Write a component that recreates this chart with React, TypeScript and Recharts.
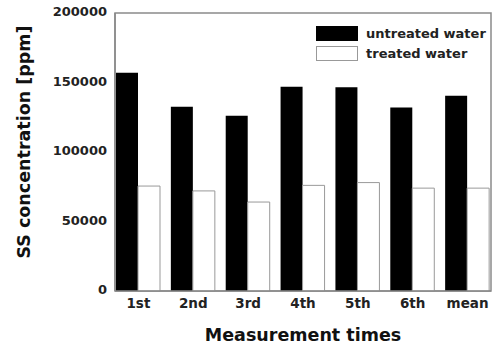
import React from "react";
import * as R from "recharts";
import { BarChart, Bar, XAxis, YAxis, Legend } from "recharts";

const categories = ["1st", "2nd", "3rd", "4th", "5th", "6th", "mean"];
const untreated = [157000, 132500, 126000, 147000, 146500, 132000, 140500];
const treated = [75500, 72000, 64000, 76000, 78000, 74000, 74000];
const yTicks = [0, 50000, 100000, 150000, 200000];

const data = categories.map((c, i) => ({
  label: c,
  untreated: untreated[i],
  treated: treated[i],
}));

const FONT = "'DejaVu Sans', sans-serif";
const AXIS = "#8a8a8a";

const usePA: any = (R as any).usePlotArea;

const Frame = () => {
  const pa = usePA ? usePA() : null;
  if (!pa) return null;
  return (
    <rect
      x={pa.x}
      y={pa.y}
      width={pa.width}
      height={pa.height}
      fill="none"
      stroke={AXIS}
      strokeWidth={1.5}
    />
  );
};

const LegendContent = () => (
  <div style={{ fontFamily: FONT, fontWeight: "bold", fontSize: 13, color: "#222" }}>
    <div style={{ display: "flex", alignItems: "center", height: 20 }}>
      <div style={{ width: 42, height: 15, background: "#000", marginRight: 8 }} />
      <span>untreated water</span>
    </div>
    <div style={{ display: "flex", alignItems: "center", height: 20 }}>
      <div style={{ width: 42, height: 15, background: "#fff", border: "1px solid #999", marginRight: 8, boxSizing: "border-box" }} />
      <span>treated water</span>
    </div>
  </div>
);

const YLabel = (props: any) => {
  const vb = props.viewBox || { x: 0, y: 0, width: 0, height: 0 };
  const cx = vb.x + 24;
  const cy = vb.y + vb.height / 2 - 10;
  return (
    <text
      x={cx}
      y={cy}
      transform={`rotate(-90 ${cx} ${cy})`}
      textAnchor="middle"
      dominantBaseline="central"
      fontFamily={FONT}
      fontWeight="bold"
      fontSize={17.5}
      fill="#111"
    >
      SS concentration [ppm]
    </text>
  );
};

export default function App() {
  return (
    <div style={{ position: "absolute", left: 0, top: 0, background: "#fff" }}>
      <BarChart
        width={496}
        height={349}
        data={data}
        margin={{ top: 13, right: 5, bottom: 0, left: 0 }}
        barGap={0}
        barSize={22}
      >
        <XAxis
          dataKey="label"
          padding={{ left: -4, right: -4 }}
          height={58}
          tickLine={false}
          tickSize={0}
          tickMargin={7}
          axisLine={{ stroke: AXIS, strokeWidth: 1.5 }}
          tick={{ fontFamily: FONT, fontWeight: "bold", fontSize: 13.5, fill: "#222" }}
          label={{
            value: "Measurement times",
            position: "insideBottom",
            offset: 8,
            fontFamily: FONT,
            fontWeight: "bold",
            fontSize: 17.5,
            fill: "#111",
          }}
        />
        <YAxis
          width={115}
          domain={[0, 200000]}
          ticks={yTicks}
          interval={0}
          tickLine={false}
          tickSize={0}
          tickMargin={8}
          axisLine={{ stroke: AXIS, strokeWidth: 1.5 }}
          tick={{ fontFamily: FONT, fontWeight: "bold", fontSize: 13, fill: "#222", dy: -1.5 }}
          label={<YLabel />}
        />
        <Legend
          content={<LegendContent />}
          layout="horizontal"
          verticalAlign="middle"
          align="center"
          wrapperStyle={{ position: "absolute", left: 316, top: 23, width: 175 }}
        />
        <Bar dataKey="untreated" fill="#000" isAnimationActive={false} />
        <Bar dataKey="treated" fill="#fff" stroke="#999" strokeWidth={1} isAnimationActive={false} />
        <Frame />
      </BarChart>
    </div>
  );
}
